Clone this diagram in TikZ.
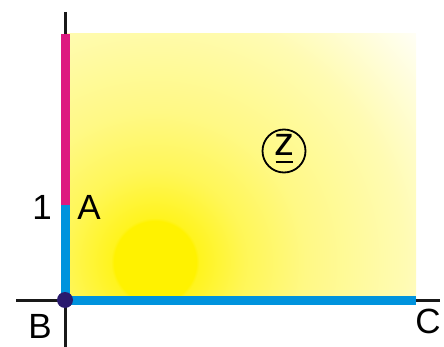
\documentclass[tikz,border=0pt]{standalone}
\usepackage{fontspec}
\setmainfont{Liberation Sans}
\definecolor{sunY}{HTML}{FFF200}
\definecolor{magentaL}{HTML}{DD1A80}
\definecolor{blueL}{HTML}{0093DD}
\definecolor{dotC}{HTML}{2A1A6E}
\pgfdeclareradialshading{sun}{\pgfpoint{0pt}{0pt}}{%
  color(0pt)=(sunY); color(41pt)=(sunY); color(44pt)=(sunY!88!white);
  color(90pt)=(sunY!66!white); color(150pt)=(sunY!48!white);
  color(250pt)=(sunY!30!white); color(350pt)=(sunY!3!white)}
\begin{document}
\begin{tikzpicture}[x=1pt,y=-1pt,
  lbl/.style={font=\fontsize{35}{40}\selectfont, inner sep=0pt},
  axis/.style={line width=3pt, black!90},
  seg/.style={line width=9pt}]
\useasboundingbox (0,0) rectangle (444,347);
% shaded field
\begin{scope}
  \clip (65,34) rectangle (416,300);
  \node[inner sep=0pt] at (155,262) {\pgfuseshading{sun}};
\end{scope}
% coordinates
\coordinate (B) at (65,300);
\coordinate (A) at (65,205);
\coordinate (T) at (65,34);
\coordinate (C) at (416,300);
\coordinate (Yt) at (65,12);
\coordinate (Yb) at (65,347);
\coordinate (Xl) at (16,300);
\coordinate (Xr) at (440,300);
% axes
\draw[axis] (Yt) -- (Yb);
\draw[axis] (Xl) -- (Xr);
% colored segments
\draw[seg, magentaL] (T) -- (A);
\draw[seg, blueL] (A) -- (B) -- (C);
\fill[dotC] (B) circle (8);
% labels
\node[lbl] (one) at (42,207) {1};
\node[lbl] (la) at (89,207) {A};
\node[lbl] (lb) at (40,326) {B};
\node[lbl] (lc) at (428,321) {C};
% circled z
\node[draw, circle, line width=1.8pt, minimum size=43pt, inner sep=0pt] (z) at (284,151) {};
\node[inner sep=0pt, font=\fontsize{40}{44}\selectfont, anchor=base] (zl) at (284,155.5) {z};
\draw[line width=2.2pt] (275.5,162) -- (292.5,162);
\end{tikzpicture}
\end{document}
